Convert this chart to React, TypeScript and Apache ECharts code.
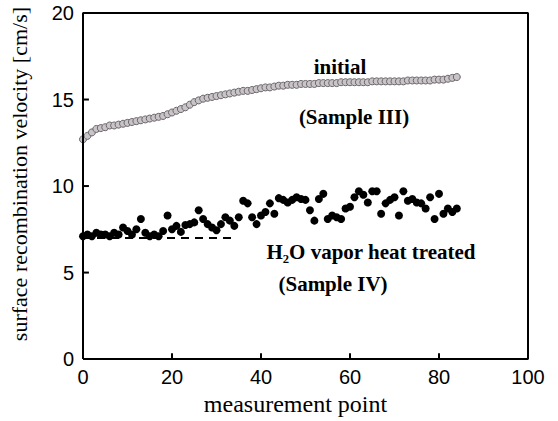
import React, { useEffect, useRef } from "react";
import * as echarts from "echarts";

const initialValues = [
  12.7, 12.9, 13.1, 13.3, 13.35, 13.4, 13.5, 13.5, 13.55, 13.6,
  13.65, 13.7, 13.75, 13.8, 13.85, 13.9, 13.95, 14.0, 14.05, 14.15,
  14.25, 14.35, 14.45, 14.55, 14.7, 14.85, 14.95, 15.05, 15.1, 15.15,
  15.2, 15.25, 15.3, 15.35, 15.4, 15.45, 15.5, 15.5, 15.55, 15.6,
  15.65, 15.7, 15.7, 15.75, 15.8, 15.8, 15.85, 15.85, 15.85, 15.9,
  15.9, 15.9, 15.9, 15.95, 15.95, 15.95, 15.95, 15.95, 16.0, 16.0,
  16.0, 16.0, 16.0, 16.0, 16.0, 16.05, 16.05, 16.05, 16.05, 16.05,
  16.05, 16.05, 16.05, 16.1, 16.1, 16.1, 16.1, 16.1, 16.1, 16.15,
  16.15, 16.15, 16.2, 16.25, 16.3,
];

const treatedValues = [
  7.1, 7.2, 7.1, 7.3, 7.2, 7.2, 7.1, 7.3, 7.2, 7.6,
  7.4, 7.2, 7.5, 8.1, 7.3, 7.1, 7.2, 7.1, 7.4, 8.3,
  7.5, 7.7, 7.35, 7.75, 7.8, 7.9, 8.6, 8.1, 7.8, 7.6,
  7.45, 7.8, 8.2, 8.0, 7.7, 8.2, 9.15, 9.0, 8.2, 7.8,
  8.3, 8.5, 9.0, 8.4, 9.3, 9.2, 9.05, 9.2, 9.35, 9.25,
  9.2, 8.6, 8.0, 9.25, 9.55, 8.1, 8.3, 8.2, 8.1, 8.7,
  8.8, 9.35, 9.7, 9.5, 9.05, 9.7, 9.7, 8.4, 9.0, 9.2,
  9.35, 8.3, 9.7, 9.15, 9.25, 9.05, 9.0, 8.7, 9.35, 8.1,
  9.55, 8.4, 8.7, 8.5, 8.7,
];

const referenceLine = [
  [0, 7.0],
  [34, 7.0],
];

const xTicks = [0, 20, 40, 60, 80, 100];
const yTicks = [0, 5, 10, 15, 20];

const annotations = [
  { text: "initial", x: 340, y: 67 },
  { text: "(Sample III)", x: 354, y: 117 },
  { text: "H\u2082O vapor heat treated", x: 371, y: 252 },
  { text: "(Sample IV)", x: 333, y: 284 },
];

const SERIF = "Liberation Serif";
const SANS = "Liberation Sans";
const INK = "#000";

export default function App() {
  const ref = useRef<HTMLDivElement>(null);
  useEffect(() => {
    if (!ref.current) return;
    document.body.style.margin = "0";
    const chart = echarts.init(ref.current, undefined, { renderer: "svg" });
    const toPts = (arr: number[]) => arr.map((v, i) => [i, v]);

    const x0 = xTicks[0];
    const x1 = xTicks[xTicks.length - 1];
    const y0 = yTicks[0];
    const y1 = yTicks[yTicks.length - 1];
    // tick length as a fraction of the axis span (~6 px)
    const xTickLen = (y1 - y0) * 0.017;
    const yTickLen = (x1 - x0) * 0.0133;

    const decoLine = (data: number[][]) => ({
      type: "line",
      data,
      symbol: "none",
      showSymbol: false,
      clip: false,
      silent: true,
      lineStyle: { color: INK, width: 2, type: "solid" },
      z: 5,
    });

    const frameSeries = decoLine([
      [x0, y0],
      [x1, y0],
      [x1, y1],
      [x0, y1],
      [x0, y0],
    ]);
    const xTickSeries = xTicks.slice(1, -1).map((t) => decoLine([[t, y0], [t, y0 + xTickLen]]));
    const yTickSeries = yTicks.slice(1, -1).map((t) => decoLine([[x0, t], [x0 + yTickLen, t]]));

    chart.setOption({
      animation: false,
      grid: { left: 77, right: 30, top: 13, bottom: 57 },
      xAxis: {
        type: "value",
        min: x0,
        max: x1,
        interval: 20,
        name: "measurement point",
        nameLocation: "middle",
        nameGap: 32,
        nameTextStyle: { fontFamily: SERIF, fontSize: 24, color: INK, padding: [0, 20, 0, 0] },
        axisLine: { show: false },
        axisTick: { show: false },
        axisLabel: { fontFamily: SANS, fontSize: 20, color: INK, margin: 8 },
        splitLine: { show: false },
      },
      yAxis: {
        type: "value",
        min: y0,
        max: y1,
        interval: 5,
        name: "surface recombination velocity [cm/s]",
        nameLocation: "middle",
        nameGap: 53,
        nameTextStyle: { fontFamily: SERIF, fontSize: 22, color: INK, padding: [0, 0, 0, 24] },
        axisLine: { show: false },
        axisTick: { show: false },
        axisLabel: { fontFamily: SANS, fontSize: 20, color: INK, margin: 9 },
        splitLine: { show: false },
      },
      series: [
        frameSeries,
        ...xTickSeries,
        ...yTickSeries,
        {
          type: "line",
          data: referenceLine,
          showSymbol: false,
          symbol: "none",
          lineStyle: { color: INK, width: 2, type: [8, 6] },
          z: 1,
        },
        {
          type: "scatter",
          data: toPts(initialValues),
          symbol: "circle",
          symbolSize: 7,
          itemStyle: { color: "#c8c4c8", borderColor: "#6a666a", borderWidth: 1, opacity: 1 },
          z: 2,
        },
        {
          type: "scatter",
          data: toPts(treatedValues),
          symbol: "circle",
          symbolSize: 8,
          itemStyle: { color: INK, opacity: 1 },
          z: 3,
        },
      ],
      graphic: annotations.map((a) => ({
        type: "text",
        x: a.x,
        y: a.y,
        style: {
          text: a.text,
          fontFamily: SERIF,
          fontWeight: "bold",
          fontSize: 21,
          fill: INK,
          align: "center",
          verticalAlign: "middle",
        },
        z: 10,
      })),
    });
    return () => chart.dispose();
  }, []);
  return <div ref={ref} style={{ width: 558, height: 421 }} />;
}
